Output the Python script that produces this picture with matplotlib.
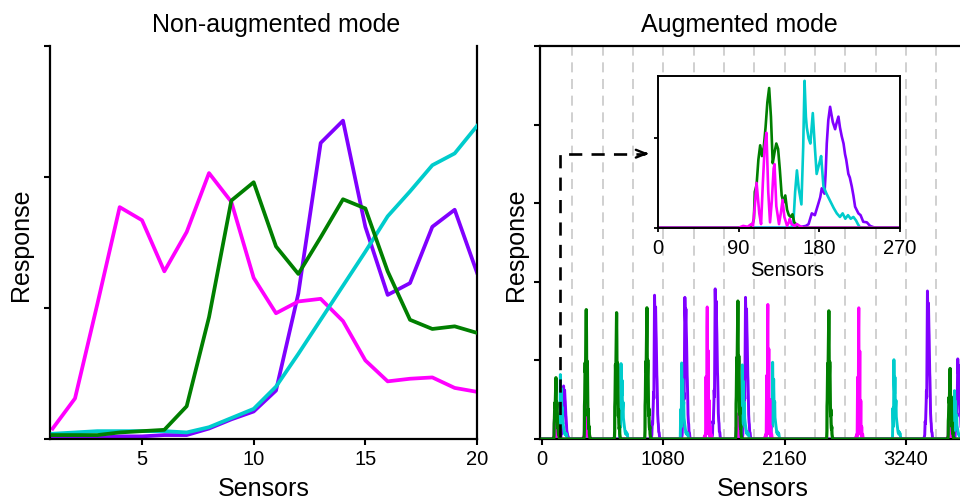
import numpy as np
import matplotlib
matplotlib.use("Agg")
import matplotlib.pyplot as plt

plt.rcParams['font.family'] = ['Liberation Sans', 'DejaVu Sans']

# ---------------- data: non-augmented mode ----------------
sensors = list(range(1, 21))
pink_na = [0.08, 0.31, 1.03, 1.77, 1.67, 1.28, 1.58, 2.03, 1.81, 1.23,
           0.96, 1.05, 1.07, 0.90, 0.60, 0.44, 0.46, 0.47, 0.39, 0.36]
green_na = [0.03, 0.03, 0.03, 0.05, 0.06, 0.07, 0.25, 0.93, 1.82, 1.96,
            1.47, 1.26, 1.54, 1.83, 1.76, 1.28, 0.91, 0.84, 0.86, 0.81]
purple_na = [0.01, 0.01, 0.01, 0.02, 0.02, 0.03, 0.03, 0.08, 0.15, 0.21,
             0.37, 1.11, 2.26, 2.43, 1.62, 1.10, 1.19, 1.62, 1.75, 1.27]
cyan_na = [0.04, 0.05, 0.06, 0.06, 0.06, 0.06, 0.05, 0.09, 0.16, 0.23,
           0.40, 0.65, 0.91, 1.17, 1.43, 1.70, 1.89, 2.09, 2.18, 2.39]

# ---------------- data: augmented mode, first 270 sensors (inset) ----------------
green_x = [0, 100, 105, 107, 108, 110, 112, 114, 116, 118, 120, 122, 124, 126, 128,
           130, 132, 134, 136, 138, 140, 142, 144, 146, 148, 150, 152, 154, 156, 160, 270]
green_y = [0, 0, 0.01, 0.05, 0.20, 0.24, 0.38, 0.46, 0.40, 0.45, 0.56, 0.70, 0.78, 0.62,
           0.36, 0.42, 0.47, 0.44, 0.32, 0.18, 0.14, 0.18, 0.10, 0.07, 0.06, 0.075,
           0.03, 0.02, 0.01, 0, 0]
pink_x = [0, 90, 95, 100, 104, 106, 108, 110, 113, 115, 117, 119, 121, 123, 125, 127,
          129, 130, 132, 135, 137, 139, 141, 144, 146, 147, 149, 152, 155, 158, 162, 270]
pink_y = [0, 0, 0.01, 0.005, 0.02, 0.01, 0.12, 0.25, 0.08, 0.02, 0.25, 0.45, 0.53, 0.20,
          0.03, 0.15, 0.33, 0.355, 0.12, 0.02, 0.08, 0.155, 0.06, 0.01, 0.03, 0.05,
          0.02, 0.01, 0.02, 0.01, 0, 0]
cyan_x = [0, 148, 151, 153, 155, 157, 160, 162, 163.5, 165, 166, 168, 170, 172.7, 175,
          177, 180, 182, 184.6, 188, 192, 196, 199.5, 203, 206, 209, 212, 215, 218,
          221, 223, 225.4, 270]
cyan_y = [0, 0, 0.02, 0.20, 0.32, 0.22, 0.13, 0.45, 0.82, 0.62, 0.56, 0.50, 0.47, 0.64,
          0.45, 0.30, 0.36, 0.40, 0.23, 0.19, 0.15, 0.11, 0.08, 0.06, 0.08, 0.05,
          0.07, 0.05, 0.06, 0.04, 0.02, 0, 0]
purple_x = [0, 150, 160, 165, 168, 171.6, 175, 179, 181, 182.7, 185.7, 187, 188.3, 190,
            192, 195, 197.6, 199, 201.3, 203, 205, 207, 208.7, 210, 212.4, 214, 216.2,
            218, 219.9, 223.6, 226, 229, 233, 236.6, 242, 270]
purple_y = [0, 0, 0.005, 0.01, 0.02, 0.08, 0.07, 0.136, 0.17, 0.22, 0.19, 0.30, 0.47, 0.60,
            0.675, 0.59, 0.55, 0.58, 0.62, 0.56, 0.51, 0.47, 0.41, 0.38, 0.30, 0.28, 0.23,
            0.18, 0.117, 0.08, 0.07, 0.033, 0.03, 0.01, 0, 0]

# per-block gains for the full augmented trace (block = 270 sensors)
block_len = 270
green_gain = [1.0, 2.11, 2.06, 2.14, 0, 0, 2.25, 0, 0, 2.09, 0, 0, 0, 1.15]
pink_gain = [1.0, 1.83, 0, 0, 0, 3.17, 0.6, 3.23, 0, 0, 3.15, 0, 0, 1.1]
cyan_gain = [1.0, 0, 1.17, 0, 1.18, 0, 1.15, 1.19, 0, 0, 0, 1.23, 0, 0.75]
purple_gain = [1.0, 0, 0, 2.71, 2.67, 2.83, 2.67, 0, 0, 0, 0, 0, 2.79, 1.51]

aug_ticks = [0, 1080, 2160, 3240]
inset_ticks = [0, 90, 180, 270]

C_PINK = '#FF00FF'
C_GREEN = '#007F00'
C_PURPLE = '#8000FF'
C_CYAN = '#00CCCC'


def full_trace(px, py, gains):
    xs, ys = [], []
    for b, g in enumerate(gains):
        xs.extend(b * block_len + np.asarray(px, float))
        ys.extend(g * np.asarray(py, float))
    return np.array(xs), np.array(ys)


fig = plt.figure(figsize=(9.6, 5.0), dpi=100)

TICK_FS = 14.5
LAB_FS = 18
TITLE_FS = 18

# ---------------- left panel ----------------
ax1 = fig.add_axes([50 / 960, 1 - 439 / 500, 427 / 960, 393 / 500])
lw1 = 2.7
ax1.plot(sensors, cyan_na, color=C_CYAN, lw=lw1, zorder=3)
ax1.plot(sensors, purple_na, color=C_PURPLE, lw=lw1, zorder=2)
ax1.plot(sensors, green_na, color=C_GREEN, lw=lw1, zorder=4)
ax1.plot(sensors, pink_na, color=C_PINK, lw=lw1, zorder=2.5)
ax1.set_xlim(0.88, 20)
ax1.set_ylim(0, 3)
ax1.set_xticks([5, 10, 15, 20])
ax1.set_yticks([0, 1, 2, 3])
ax1.set_yticklabels([])
ax1.spines['top'].set_visible(False)
for s in ['left', 'bottom', 'right']:
    ax1.spines[s].set_linewidth(1.6)
ax1.tick_params(axis='both', direction='out', length=4, width=1.5,
                labelsize=TICK_FS, pad=4)

# ---------------- right panel ----------------
px_per_unit = 0.1123
x_left = -18
x_right = 4320
ax2_w = (x_right - x_left) * px_per_unit
ax2 = fig.add_axes([540 / 960, 1 - 439 / 500, ax2_w / 960, 393 / 500])
for gx in range(block_len, x_right, block_len):
    ax2.axvline(gx, color='#C8C8C8', lw=1.2, dashes=(6, 4), zorder=0)

xs, ys = full_trace(purple_x, purple_y, purple_gain)
ax2.plot(xs, ys, color=C_PURPLE, lw=2.1, zorder=2)
xs, ys = full_trace(cyan_x, cyan_y, cyan_gain)
ax2.plot(xs, ys, color=C_CYAN, lw=2.1, zorder=2.2)
xs, ys = full_trace(pink_x, pink_y, pink_gain)
ax2.plot(xs, ys, color=C_PINK, lw=2.1, zorder=2.4)
xs, ys = full_trace(green_x, green_y, green_gain)
ax2.plot(xs, ys, color=C_GREEN, lw=2.3, zorder=2.6)

ax2.set_xlim(x_left, x_right)
ax2.set_ylim(0, 5)
ax2.set_xticks(aug_ticks)
ax2.set_yticks([0, 1, 2, 3, 4, 5])
ax2.set_yticklabels([])
ax2.spines['right'].set_visible(False)
for s in ['left', 'bottom', 'top']:
    ax2.spines[s].set_linewidth(1.6)
ax2.tick_params(axis='both', direction='out', length=4, width=1.5,
                labelsize=TICK_FS, pad=4)

# dashed arrow from first block to inset
arrow_x0, arrow_ytop, arrow_x1 = 160, 3.63, 975
ax2.plot([arrow_x0, arrow_x0, arrow_x1 - 60], [0.02, arrow_ytop, arrow_ytop],
         color='black', lw=1.9, dashes=(5, 3.5), zorder=5)
ax2.annotate('', xy=(arrow_x1, arrow_ytop), xytext=(arrow_x1 - 80, arrow_ytop),
             arrowprops=dict(arrowstyle='->,head_length=0.7,head_width=0.28',
                             color='black', lw=1.7), zorder=6)

# ---------------- inset ----------------
ax3 = fig.add_axes([658 / 960, 1 - 227.7 / 500, 242 / 960, 151.7 / 500])
ax3.set_facecolor('white')
ax3.plot(purple_x, purple_y, color=C_PURPLE, lw=1.9)
ax3.plot(cyan_x, cyan_y, color=C_CYAN, lw=1.9)
ax3.plot(green_x, green_y, color=C_GREEN, lw=1.9)
ax3.plot(pink_x, pink_y, color=C_PINK, lw=1.9)
ax3.set_xlim(0, 270)
ax3.set_ylim(0, 0.847)
ax3.set_xticks(inset_ticks)
ax3.set_yticks([0, 0.5])
ax3.set_yticklabels([])
for s in ax3.spines.values():
    s.set_linewidth(1.4)
ax3.tick_params(axis='both', direction='out', length=3, width=1.3,
                labelsize=TICK_FS, pad=5)

# ---------------- texts ----------------
fig.text(276.5 / 960, 1 - 25 / 500, 'Non-augmented mode', ha='center', va='center',
         fontsize=TITLE_FS)
fig.text(739 / 960, 1 - 25 / 500, 'Augmented mode', ha='center', va='center',
         fontsize=TITLE_FS)
fig.text(264 / 960, 1 - 489 / 500, 'Sensors', ha='center', va='center', fontsize=LAB_FS)
fig.text(763 / 960, 1 - 489 / 500, 'Sensors', ha='center', va='center', fontsize=LAB_FS)
fig.text(787 / 960, 1 - 271 / 500, 'Sensors', ha='center', va='center', fontsize=14.5)
fig.text(21 / 960, 1 - 245 / 500, 'Response', ha='center', va='center', rotation=90,
         fontsize=LAB_FS)
fig.text(516 / 960, 1 - 245 / 500, 'Response', ha='center', va='center', rotation=90,
         fontsize=LAB_FS)

fig.savefig('out.png', dpi=100)
